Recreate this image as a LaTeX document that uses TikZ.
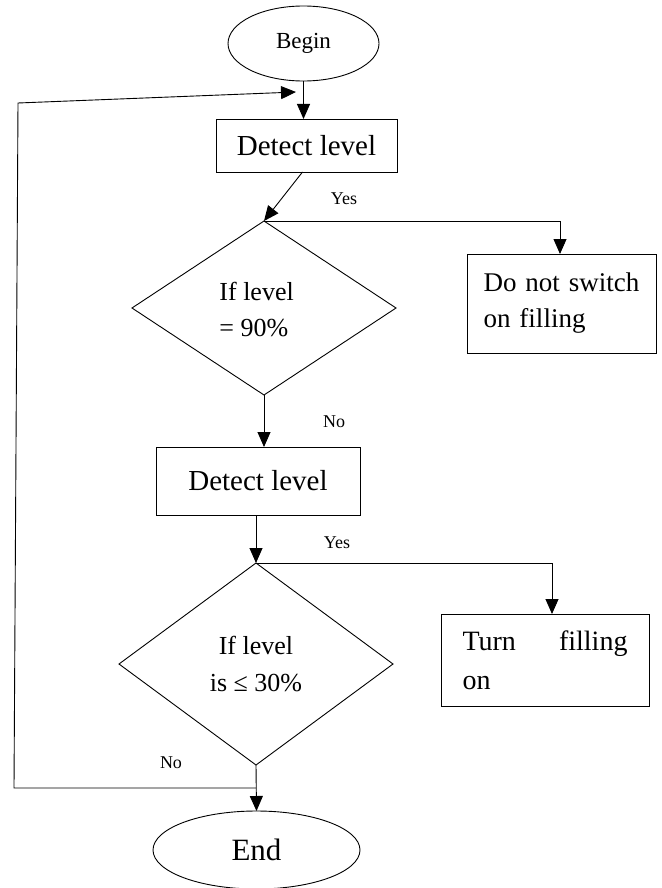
\documentclass[tikz,border=0pt]{standalone}
\usepackage{fontspec}
\setmainfont{Liberation Serif}
\usetikzlibrary{shapes.geometric,arrows.meta}
\begin{document}
\begin{tikzpicture}[x=1pt,y=-1pt,
  line width=0.9pt,
  arr/.style={-{Triangle[length=15pt,width=13pt]}},
  box/.style={draw, rectangle, inner sep=0pt, outer sep=0pt},
  oval/.style={draw, ellipse, inner sep=0pt, outer sep=0pt},
  dia/.style={draw, diamond, inner sep=0pt, outer sep=0pt},
  lbl/.style={font=\fontsize{18}{20}\selectfont}]
\useasboundingbox (0,0) rectangle (661,888);
% nodes
\node[oval, minimum width=151pt, minimum height=75pt, font=\fontsize{23}{26}\selectfont] (begin) at (303.5,43.5) {Begin};
\node[box, minimum width=181pt, minimum height=53pt, font=\fontsize{29}{33}\selectfont] (det1) at (306.5,145.5) {Detect level};
\node[dia, minimum width=264pt, minimum height=174pt] (d1) at (264,308) {};
\node[align=left, anchor=west, inner sep=0pt, font=\fontsize{26}{36}\selectfont] (d1txt) at (219,310) {If level\\= 90\%};
\node[box, minimum width=189pt, minimum height=99pt, text width=160pt, align=left, font=\fontsize{27}{36}\selectfont] (dns) at (561.5,303.5) {\hspace*{2pt}Do not switch\\\hspace*{2pt}on filling};
\node[box, minimum width=204pt, minimum height=68pt, font=\fontsize{29}{33}\selectfont] (det2) at (258,481) {Detect level};
\node[dia, minimum width=274pt, minimum height=202pt, align=center, font=\fontsize{26}{37}\selectfont] (d2) at (256,664) {If level\\is ≤ 30\%};
\node[box, minimum width=208pt, minimum height=92pt, text width=165pt, align=justify, font=\fontsize{28}{39}\selectfont] (turn) at (545,660) {Turn\hfill filling\\on};
\node[oval, minimum width=207pt, minimum height=78pt, font=\fontsize{31}{34}\selectfont] (end) at (256.5,850) {End};
% labels
\node[lbl] (yes1) at (344,199) {Yes};
\node[lbl] (no1) at (334,422) {No};
\node[lbl] (yes2) at (337,543) {Yes};
\node[lbl] (no2) at (171,763) {No};
% loop coordinates
\coordinate (junc) at (256,788);
\coordinate (lbot) at (14,788);
\coordinate (ltop) at (18,103);
\coordinate (ltip) at (296,92);
% connectors
\draw[arr] (begin.south) -- (begin.south |- det1.north);
\draw[arr] (junc) -- (lbot) -- (ltop) -- (ltip);
\draw[arr] ([xshift=-4pt]det1.south) -- (d1.north);
\draw[arr] (d1.north) -| ([xshift=-1.5pt]dns.north);
\draw[arr] (d1.south) -- (d1.south |- det2.north);
\draw[arr] (d2.north |- det2.south) -- (d2.north);
\draw[arr] (d2.north) -| ([xshift=7pt]turn.north);
\draw[arr] (d2.south) -- (end.north);
\end{tikzpicture}
\end{document}
